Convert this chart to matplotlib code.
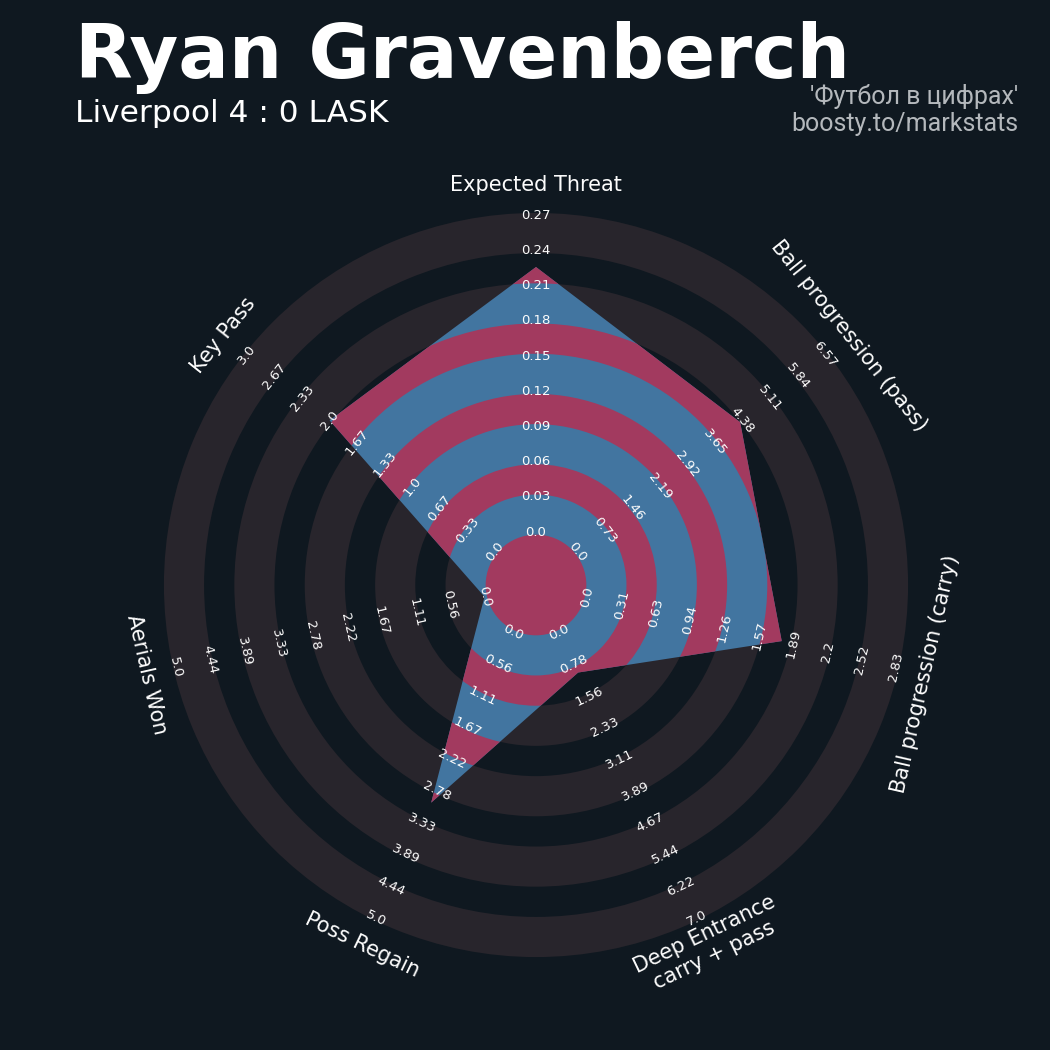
import numpy as np
import matplotlib
matplotlib.use('Agg')
import matplotlib.pyplot as plt
from matplotlib.patches import Wedge, Circle, Polygon

# data
params = ['Expected Threat', 'Ball progression (pass)', 'Ball progression (carry)',
          'Deep Entrance\ncarry + pass', 'Poss Regain', 'Aerials Won', 'Key Pass']
low = [0, 0, 0, 0, 0, 0, 0]
high = [0.27, 6.57, 2.83, 7.0, 5.0, 5.0, 3.0]
values = [0.226, 4.32, 1.78, 0.98, 2.98, 0.0, 2.0]

title = 'Ryan Gravenberch'
subtitle = 'Liverpool 4 : 0 LASK'
credit1 = "'Футбол в цифрах'"
credit2 = 'boosty.to/markstats'

# style
BG = '#0f1820'
RING = '#28252c'
RADAR = '#4275a0'
RADAR_RING = '#a23a5f'
TXT = '#fcfcfc'

NUM_RINGS = 9
CENTER_R = 1.5
GROW = 0.07        # grey bands look a little wider than the label spacing
LABEL_R = 11.36


def rotation_for(angle):
    rot = angle - 90
    while rot <= -180:
        rot += 360
    while rot > 180:
        rot -= 360
    if rot < -90:
        rot += 180
    elif rot > 90:
        rot -= 180
    return rot


def scale(v, lo, hi):
    return CENTER_R + (v - lo) / (hi - lo) * NUM_RINGS


fig = plt.figure(figsize=(10.5, 10.5), dpi=100, facecolor=BG)
w = 24 * 35.2 / 1050
ax = fig.add_axes([(536 - 422.4) / 1050, (465 - 422.4) / 1050, w, w])
ax.set_facecolor(BG)
ax.set_xlim(-12, 12)
ax.set_ylim(-12, 12)
ax.set_aspect('equal')
ax.axis('off')

n = len(params)
angles = 90 - np.arange(n) * 360.0 / n

# grey rings
edges = CENTER_R + np.arange(NUM_RINGS + 1)
for k in range(0, NUM_RINGS + 1, 2):
    r_in = edges[k] - GROW
    r_out = edges[k] + 1 + GROW
    ax.add_patch(Wedge((0, 0), r_out, 0, 360, width=r_out - r_in,
                       facecolor=RING, edgecolor='none', zorder=1))

# radar polygon
radii = [scale(v, lo, hi) for v, lo, hi in zip(values, low, high)]
xs = np.array(radii) * np.cos(np.radians(angles))
ys = np.array(radii) * np.sin(np.radians(angles))
poly = Polygon(np.column_stack([xs, ys]), closed=True, facecolor=RADAR,
               edgecolor='none', zorder=2)
ax.add_patch(poly)

# rings inside the radar
inner = [Circle((0, 0), CENTER_R - GROW)]
for k in range(1, NUM_RINGS, 2):
    r_in = edges[k] + GROW
    r_out = edges[k] + 1 - GROW
    inner.append(Wedge((0, 0), r_out, 0, 360, width=r_out - r_in))
for p in inner:
    p.set_facecolor(RADAR_RING)
    p.set_edgecolor('none')
    p.set_zorder(3)
    ax.add_patch(p)
    p.set_clip_path(poly)

# range labels
for i in range(n):
    a = np.radians(angles[i])
    rot = rotation_for(angles[i])
    ticks = np.linspace(low[i], high[i], NUM_RINGS + 1)
    for j, t in enumerate(ticks):
        r = CENTER_R + j
        ax.text(r * np.cos(a), r * np.sin(a), str(round(float(t), 2)),
                color=TXT, fontsize=9.5, rotation=rot, rotation_mode='anchor',
                ha='center', va='center', zorder=5)
    ax.text(LABEL_R * np.cos(a), LABEL_R * np.sin(a), params[i], color=TXT,
            fontsize=15, rotation=rot, rotation_mode='anchor',
            ha='center', va='center', multialignment='center', zorder=5)

fig.text(75 / 1050, 1 - 78 / 1050, title, color='white', fontsize=54,
         fontweight='bold', ha='left', va='baseline')
fig.text(75 / 1050, 1 - 122 / 1050, subtitle, color='white', fontsize=22.5,
         ha='left', va='baseline')
fig.text(1018 / 1050, 1 - 104 / 1050, credit1, color='#b4b8bc', fontsize=18,
         family='Roboto', ha='right', va='baseline')
fig.text(1018 / 1050, 1 - 131 / 1050, credit2, color='#b4b8bc', fontsize=18,
         family='Roboto', ha='right', va='baseline')

fig.savefig('out.png', dpi=100, facecolor=BG)
